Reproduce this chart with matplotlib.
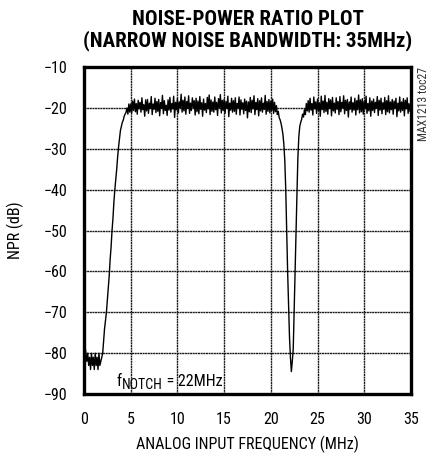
"""Noise-power ratio plot (narrow noise bandwidth 35 MHz), notch at 22 MHz."""
import matplotlib

matplotlib.use("Agg")

import matplotlib.pyplot as plt  # noqa: E402
import numpy as np  # noqa: E402
from matplotlib import font_manager  # noqa: E402

# pick the narrowest installed sans family (reference uses Helvetica Condensed)
_installed = {f.name for f in font_manager.fontManager.ttflist}
_candidates = ["Liberation Sans Narrow", "DejaVu Sans Condensed",
               "Roboto Condensed", "Open Sans Condensed", "Noto Sans Condensed",
               "Arial Narrow", "Nimbus Sans Narrow", "DejaVu Sans"]
NARROW = next(c for c in _candidates if c in _installed)
plt.rcParams["font.family"] = [NARROW, "DejaVu Sans"]

# ---- data, one value every FREQ_STEP MHz -----------------------------------
FREQ_STEP = 0.1
npr_db = [
    # 0 - 2 MHz : inside the notch-filter skirt
    -75, -78, -80, -82, -80, -83, -81, -84, -80, -83,
    -81, -84, -80, -83, -81, -84, -80, -83, -82, -81,
    # 2 - 5 MHz : rising edge
    -80, -77, -74, -72, -70, -67, -64, -61, -57, -54,
    -50, -47, -43, -40, -37.5, -35, -32, -29.5, -27.5, -25.5,
    -24.5, -23.5, -23, -22, -21.5, -21, -20, -21.5, -19, -21,
    # 5 - 20 MHz : noise floor
    -19.0, -21.2, -18.3, -20.6, -17.8, -20.9, -18.9, -21.5, -18.1, -20.2,
    -18.6, -21.0, -17.5, -20.4, -19.2, -22.0, -18.0, -20.7, -17.9, -21.3,
    -18.8, -20.1, -17.2, -21.6, -19.0, -20.3, -17.6, -21.1, -18.4, -20.8,
    -17.9, -21.9, -18.7, -20.0, -16.9, -21.4, -18.2, -20.6, -19.3, -21.8,
    -18.0, -20.5, -17.4, -21.0, -18.9, -20.2, -17.1, -22.3, -18.6, -20.4,
    -17.7, -21.2, -18.5, -19.9, -16.6, -21.0, -18.1, -20.7, -17.3, -21.5,
    -18.4, -20.1, -17.0, -21.3, -18.8, -20.6, -17.5, -20.0, -18.2, -21.7,
    -17.6, -20.9, -18.3, -21.4, -17.2, -20.3, -18.7, -22.0, -17.8, -20.5,
    -18.9, -21.1, -17.4, -20.2, -16.8, -21.6, -18.0, -20.8, -18.5, -21.0,
    -17.3, -20.4, -18.6, -21.8, -17.7, -19.9, -16.7, -21.2, -18.1, -20.6,
    -17.9, -21.3, -18.4, -20.1, -17.1, -22.1, -18.8, -20.5, -17.6, -21.0,
    -18.2, -20.8, -17.5, -21.5, -18.9, -20.0, -17.3, -21.7, -18.0, -20.3,
    -18.7, -21.4, -17.8, -20.6, -18.3, -22.4, -18.5, -20.9, -17.4, -21.1,
    -18.1, -20.2, -17.0, -21.6, -18.6, -20.4, -17.7, -21.9, -18.2, -20.7,
    -17.5, -21.0, -18.8, -20.3, -16.9, -21.5, -18.4, -20.8, -17.9, -21.2,
    # 20 - 24 MHz : the notch
    -18.3, -20.6, -17.8, -21.3, -18.6, -20.9, -19.4, -21.6, -20.8, -22.4,
    -22.9, -23.8, -25.0, -26.5, -29, -33, -40, -50, -60, -68,
    -76, -81, -84.5, -82, -79, -70, -60, -50, -41, -32,
    -27, -24.5, -23.5, -22.8, -21.5, -22.2, -20.4, -21.6, -18.9, -20.7,
    # 24 - 35 MHz : noise floor
    -18.2, -21.0, -17.6, -20.5, -18.9, -21.7, -17.3, -20.2, -18.5, -21.3,
    -17.8, -20.6, -18.7, -22.0, -17.1, -20.4, -18.3, -21.1, -16.9, -20.8,
    -18.6, -21.5, -17.7, -20.1, -18.0, -21.9, -17.4, -20.7, -18.8, -21.2,
    -17.5, -20.3, -18.4, -21.6, -17.2, -20.9, -18.6, -20.0, -17.0, -21.4,
    -18.1, -20.6, -17.9, -22.2, -18.5, -20.3, -17.3, -21.0, -18.7, -20.5,
    -17.6, -21.7, -18.2, -20.4, -16.8, -21.2, -18.0, -20.9, -17.7, -21.5,
    -18.4, -20.2, -17.1, -21.3, -18.9, -20.7, -17.5, -22.0, -18.3, -20.6,
    -17.8, -21.1, -18.6, -20.0, -17.2, -21.8, -18.1, -20.5, -17.6, -21.4,
    -18.7, -20.3, -17.4, -21.6, -18.2, -20.9, -17.0, -21.2, -18.5, -20.4,
    -17.9, -21.5, -18.3, -20.1, -17.6, -22.1, -18.8, -20.7, -17.3, -21.0,
    -18.5, -20.6, -17.7, -21.9, -18.1, -20.2, -17.5, -21.3, -18.9, -20.8,
    -19.6,
]
freq_mhz = np.arange(len(npr_db)) * FREQ_STEP

x_ticks = [0, 5, 10, 15, 20, 25, 30, 35]
y_ticks = [-10, -20, -30, -40, -50, -60, -70, -80, -90]

# ---- figure ---------------------------------------------------------------
fig = plt.figure(figsize=(4.33, 4.54), dpi=100)
ax = fig.add_axes([0.194, 0.132, 0.755, 0.720])

ax.plot(freq_mhz, npr_db, color="black", linewidth=1.0, zorder=3)

ax.set_xlim(0, 35)
ax.set_ylim(-90, -10)
ax.set_xticks(x_ticks)
ax.set_yticks(y_ticks)
ax.grid(True, color="#1a1a1a", linewidth=1.0, linestyle=(0, (1.5, 0.4)))
ax.tick_params(length=0, labelsize=11.5)
ax.tick_params(axis="y", pad=12)
ax.tick_params(axis="x", pad=13)
for sp in ax.spines.values():
    sp.set_linewidth(2.4)
    sp.set_zorder(5)

ax.set_xlabel("ANALOG INPUT FREQUENCY (MHz)", fontsize=11.5, labelpad=6)
ax.set_ylabel("NPR (dB)", fontsize=11.5, labelpad=14)
title_size = 15 if NARROW != "DejaVu Sans" else 11.5
ax.set_title("NOISE-POWER RATIO PLOT\n(NARROW NOISE BANDWIDTH: 35MHz)",
             fontsize=title_size, fontweight="bold", linespacing=1.05, pad=15)

# f_NOTCH label: subscript nearly as large as the main text, as in the source
t_f = ax.text(3.5, -88.0, "f", fontsize=11.5, ha="left", va="baseline",
              zorder=4)
t_sub = ax.annotate("NOTCH", xy=(1, 0), xycoords=t_f, xytext=(0.3, -2.5),
                    textcoords="offset points", fontsize=10, ha="left",
                    va="bottom", zorder=4)
# main text continues on the "f" baseline, right after the subscript
ax.annotate(" = 22MHz", xy=(1, 0), xycoords=t_sub, xytext=(0, 2.5),
            textcoords="offset points", fontsize=11.5, ha="left",
            va="bottom", zorder=4)

fig.text(0.979, 0.852, "MAX1213 toc27", rotation=90, fontsize=8.5,
         ha="center", va="top", color="#333333")

fig.savefig("out.png", dpi=100, facecolor="white")
